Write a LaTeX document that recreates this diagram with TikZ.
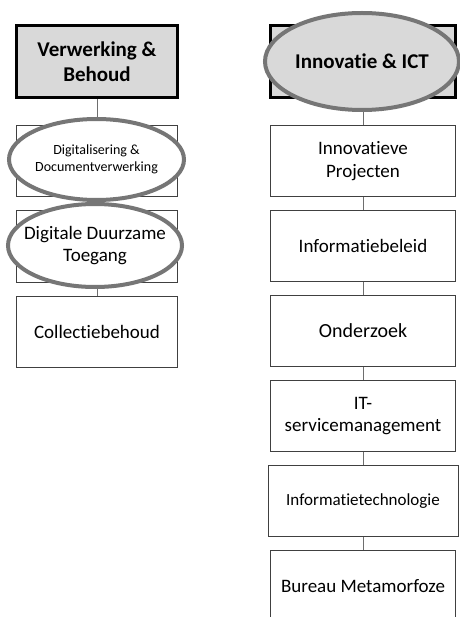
\documentclass[tikz,border=0pt]{standalone}
\usepackage{fontspec}
\setmainfont{Carlito}[Ligatures=NoCommon]
\usetikzlibrary{positioning,shapes.geometric}
\definecolor{headfill}{RGB}{217,217,217}
\definecolor{boxline}{RGB}{64,64,64}
\definecolor{ringline}{RGB}{118,118,118}
\definecolor{linkline}{RGB}{110,110,110}
\begin{document}
\begin{tikzpicture}[x=1pt, y=-1pt, node distance=13pt,
        every node/.style = {align=center},
        head/.style = {draw=black, line width=3pt, fill=headfill, minimum width=#1,
            minimum height=72pt, font=\bfseries\fontsize{21}{25}\selectfont},
        unit/.style = {draw=boxline, line width=1pt, fill=white, minimum width=#1,
            minimum height=71pt, font=\fontsize{19}{22.5}\selectfont},
        ring/.style = {ellipse, draw=ringline, line width=4pt, inner sep=0pt},
        link/.style = {draw=linkline, line width=1pt}]
    \useasboundingbox (0,0) rectangle (459,617);
    \node[head=161pt] (vb) at (97,62) {Verwerking \&\\Behoud};
    \node[unit=161pt, below=26pt of vb] (dig) {};
    \node[unit=161pt, below=of dig] (ddt) {};
    \node[unit=161pt, below=of ddt] (cb) {Collectiebehoud};
    \node[head=185pt] (ict) at (363,61.5) {};
    \node[unit=185pt, below=26pt of ict] (ip) {Innovatieve\\Projecten};
    \node[unit=185pt, below=of ip] (ib) {Informatiebeleid};
    \node[unit=185pt, below=of ib, font=\fontsize{20}{24}\selectfont] (oz) {Onderzoek};
    \node[unit=185pt, below=of oz] (itsm) {IT-\\servicemanagement};
    \node[unit=190pt, below=of itsm, font=\fontsize{17}{20}\selectfont] (it) {Informatietechnologie};
    \node[unit=185pt, below=of it] (bm) {Bureau Metamorfoze};
    \foreach \a/\b in {vb/dig, dig/ddt, ddt/cb, ict/ip, ip/ib, ib/oz, oz/itsm, itsm/it, it/bm}
        \draw[link] (\a.south) -- (\b.north);
    \node[ring, fill=white, minimum width=175pt, minimum height=81pt,
        label={[font=\fontsize{14}{17}\selectfont]center:Digitalisering \&\\Documentverwerking}]
        (digring) at ([xshift=-0.5pt, yshift=2pt]dig.center) {};
    \node[ring, fill=white, minimum width=174pt, minimum height=83pt,
        label={[font=\fontsize{19}{22.5}\selectfont]center:Digitale Duurzame\\Toegang}]
        (ddtring) at ([xshift=-2pt, yshift=1pt]ddt.center) {};
    \node[ring, fill=headfill, minimum width=194pt, minimum height=97pt,
        label={[font=\bfseries\fontsize{21}{25}\selectfont]center:Innovatie \& ICT}]
        (ictring) at ([xshift=-1pt]ict.center) {};
\end{tikzpicture}
\end{document}
